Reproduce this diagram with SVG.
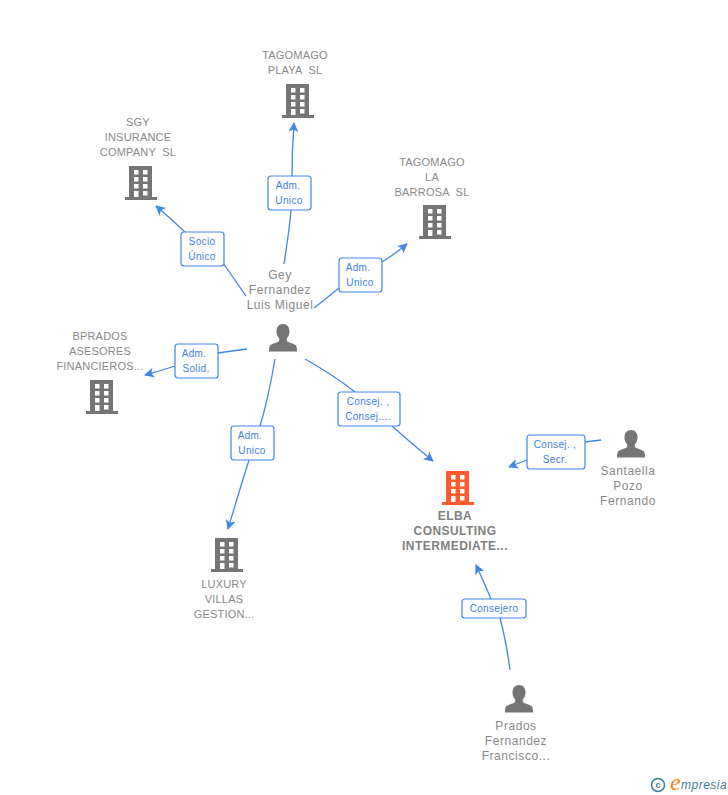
<svg xmlns="http://www.w3.org/2000/svg" width="728" height="795" viewBox="0 0 728 795">
<style>
text{font-family:"Liberation Sans",Arial,sans-serif;white-space:pre}
.n{font-size:11px;fill:#888;text-anchor:middle;letter-spacing:.2px}
.p{font-size:12px;fill:#888;text-anchor:middle;letter-spacing:.55px}
.b{font-size:12px;font-weight:bold;fill:#808080;text-anchor:middle;letter-spacing:.45px}
.l{font-size:10px;fill:#3b7fe0;text-anchor:middle;letter-spacing:.35px}
.box{fill:#fff;stroke:#3f86e4;stroke-width:1.2}
.c{fill:none;stroke:#3f86e4;stroke-width:1.3;marker-end:url(#a)}
.c0{fill:none;stroke:#3f86e4;stroke-width:1.3}
</style>
<defs>
<marker id="a" markerUnits="userSpaceOnUse" markerWidth="12" markerHeight="12" refX="9" refY="5" orient="auto"><path d="M0 0L10 5L0 10L2.5 5Z" fill="#3f86e4"/></marker>
<path id="bld" fill-rule="evenodd" d="M-12 0H11V31H16V34H-16V31H-12ZM-7 4V8.500H-2.500V4ZM2 4V8.500H6.500V4ZM-7 11V15.500H-2.500V11ZM2 11V15.500H6.500V11ZM-7 18V22.500H-2.500V18ZM2 18V22.500H6.500V18ZM-7 25V31H-2.500V25ZM2 25V29.500H6.500V25Z"/>
<path id="per" d="M0 0C4.500 0 6.500 3.500 6.500 7.500C6.500 10.500 5.500 12.800 3.800 14.500V16.800C3.800 18 10 19.500 12.500 21C13.800 22 14 25 14 27.500H-14C-14 25 -13.800 22 -12.500 21C-10 19.500 -3.800 18 -3.800 16.800V14.500C-5.500 12.800 -6.500 10.500 -6.500 7.500C-6.500 3.500 -4.500 0 0 0Z"/>
</defs>
<rect width="728" height="795" fill="#fff"/>
<g id="connectors">
<path class="c0" d="M284 264Q290 225 291 210"/><path class="c" d="M292 176Q292 150 294 123"/>
<path class="c0" d="M246 296Q235 280 223 263"/><path class="c" d="M186 233Q170 218 156 206"/>
<path class="c0" d="M314 308Q327 298 339 288"/><path class="c" d="M382 262Q395 254 407 244"/>
<path class="c0" d="M247 349Q232 351 218 353"/><path class="c" d="M175 366Q160 371 145 375"/>
<path class="c0" d="M275 359Q268 400 260 426"/><path class="c" d="M249 460Q238 495 228 529"/>
<path class="c0" d="M305 359Q335 376 355 392"/><path class="c" d="M392 426Q412 444 433 461"/>
<path class="c0" d="M601 440L585 442"/><path class="c" d="M527 460L509 467"/>
<path class="c0" d="M510 670Q506 640 500 618"/><path class="c" d="M491 599Q484 582 476 565"/>
</g>
<g id="node-tagomago-playa"><use href="#bld" x="298" y="84" fill="#757575"/><text class="n" x="295" y="59">TAGOMAGO</text><text class="n" x="295" y="74">PLAYA  SL</text></g>
<g id="node-sgy"><use href="#bld" x="141" y="166" fill="#757575"/><text class="n" x="138" y="126">SGY</text><text class="n" x="138" y="141">INSURANCE</text><text class="n" x="138" y="156">COMPANY  SL</text></g>
<g id="node-la-barrosa"><use href="#bld" x="435" y="205" fill="#757575"/><text class="n" x="432" y="166">TAGOMAGO</text><text class="n" x="432" y="181">LA</text><text class="n" x="432" y="196">BARROSA  SL</text></g>
<g id="node-gey"><use href="#per" x="283" y="324" fill="#757575"/><text class="p" x="280" y="279">Gey</text><text class="p" x="280" y="294">Fernandez</text><text class="p" x="280" y="309">Luis Miguel</text></g>
<g id="node-bprados"><use href="#bld" x="102" y="380" fill="#757575"/><text class="n" x="100" y="340">BPRADOS</text><text class="n" x="100" y="355">ASESORES</text><text class="n" x="100" y="370">FINANCIEROS...</text></g>
<g id="node-luxury"><use href="#bld" x="227" y="538" fill="#757575"/><text class="n" x="224" y="588">LUXURY</text><text class="n" x="224" y="603">VILLAS</text><text class="n" x="224" y="618">GESTION...</text></g>
<g id="node-elba"><use href="#bld" x="458" y="471" fill="#ff5a2c"/><text class="b" x="455" y="520">ELBA</text><text class="b" x="455" y="535">CONSULTING</text><text class="b" x="455" y="550">INTERMEDIATE...</text></g>
<g id="node-santaella"><use href="#per" x="631" y="430" fill="#757575"/><text class="p" x="628" y="475">Santaella</text><text class="p" x="628" y="490">Pozo</text><text class="p" x="628" y="505">Fernando</text></g>
<g id="node-prados"><use href="#per" x="519" y="685" fill="#757575"/><text class="p" x="516" y="730">Prados</text><text class="p" x="516" y="745">Fernandez</text><text class="p" x="516" y="760">Francisco...</text></g>
<g id="label-1"><rect class="box" x="268" y="176" width="43" height="34" rx="3"/><text class="l" x="288" y="189">Adm.</text><text class="l" x="289" y="204">Unico</text></g>
<g id="label-2"><rect class="box" x="181" y="232" width="43" height="34" rx="3"/><text class="l" x="202" y="245">Socio</text><text class="l" x="202" y="260">Único</text></g>
<g id="label-3"><rect class="box" x="339" y="258" width="43" height="34" rx="3"/><text class="l" x="358" y="271">Adm.</text><text class="l" x="360" y="286">Unico</text></g>
<g id="label-4"><rect class="box" x="175" y="344" width="43" height="34" rx="3"/><text class="l" x="194" y="357">Adm.</text><text class="l" x="196" y="372">Solid.</text></g>
<g id="label-5"><rect class="box" x="231" y="426" width="43" height="34" rx="3"/><text class="l" x="250" y="439">Adm.</text><text class="l" x="252" y="454">Unico</text></g>
<g id="label-6"><rect class="box" x="338" y="392" width="62" height="34" rx="3"/><text class="l" x="368" y="405">Consej. ,</text><text class="l" x="368" y="420">Consej....</text></g>
<g id="label-7"><rect class="box" x="527" y="435" width="58" height="34" rx="3"/><text class="l" x="555" y="448">Consej. ,</text><text class="l" x="555" y="463">Secr.</text></g>
<g id="label-8"><rect class="box" x="462" y="599" width="64" height="19" rx="3"/><text class="l" x="494" y="612">Consejero</text></g>
<g id="logo"><circle cx="658" cy="785" r="6.500" fill="none" stroke="#3f7d96" stroke-width="1.500"/><text x="658" y="788" font-size="9" font-weight="bold" fill="#3f7d96" text-anchor="middle">c</text><text x="670" y="790" font-size="24" font-style="italic" fill="#f08020" style="font-family:'Liberation Serif',serif">e</text><text x="681" y="789" font-size="12" font-style="italic" fill="#3f7d96" letter-spacing=".5">mpresia</text></g>
</svg>
